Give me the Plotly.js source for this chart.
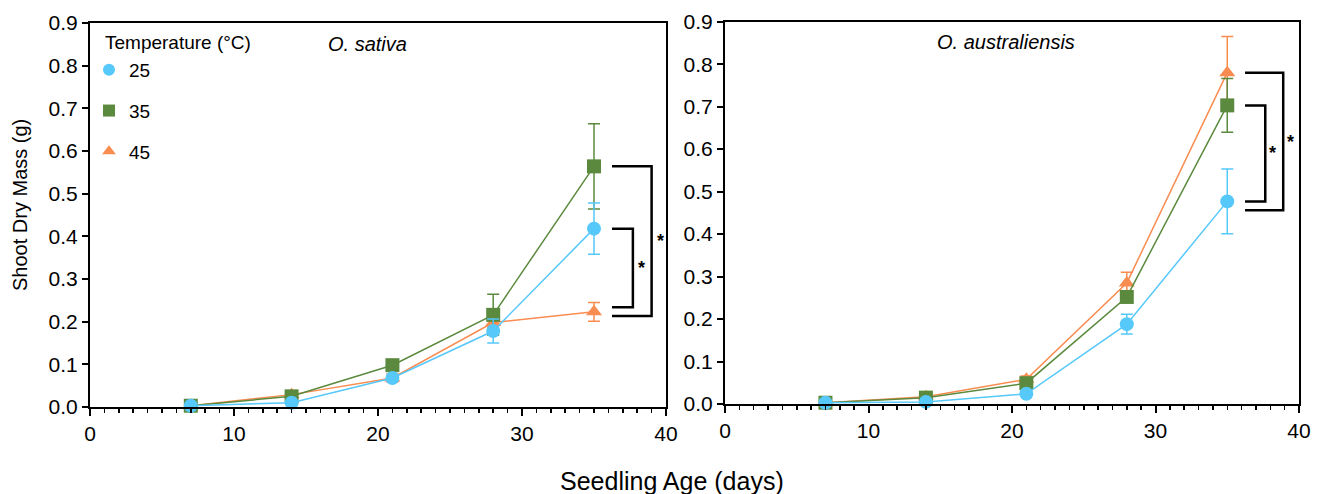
<!DOCTYPE html>
<html>
<head>
<meta charset="utf-8">
<script src="https://cdn.plot.ly/plotly-3.0.1.min.js"></script>
<style>html,body{margin:0;padding:0;background:#fff;}#chart{width:1321px;height:494px;}</style>
</head>
<body>
<div id="chart"></div>
<script>
// ---- data ----
const days = [7, 14, 21, 28, 35];
const tempLabels = ['25', '35', '45'];

const sativa25 = [0.003, 0.010, 0.068, 0.178, 0.418];
const sativa25Err = [0.002, 0.003, 0.005, 0.028, 0.060];
const sativa35 = [0.003, 0.025, 0.098, 0.216, 0.564];
const sativa35Err = [0.002, 0.004, 0.006, 0.048, 0.100];
const sativa45 = [0.003, 0.029, 0.068, 0.198, 0.223];
const sativa45Err = [0.002, 0.008, 0.010, 0.010, 0.022];

const aus25 = [0.003, 0.005, 0.024, 0.188, 0.477];
const aus25Err = [0.001, 0.002, 0.004, 0.023, 0.076];
const aus35 = [0.003, 0.015, 0.049, 0.252, 0.703];
const aus35Err = [0.001, 0.003, 0.005, 0.010, 0.063];
const aus45 = [0.003, 0.017, 0.058, 0.285, 0.780];
const aus45Err = [0.001, 0.004, 0.008, 0.025, 0.085];

const xTicks = [0, 10, 20, 30, 40];
const yTicks = [0, 0.1, 0.2, 0.3, 0.4, 0.5, 0.6, 0.7, 0.8, 0.9];

// significance brackets: [xStart, xEnd, yTop, yBottom]
const sativaBrackets = [[36.25, 37.7, 0.418, 0.234], [36.25, 39.0, 0.564, 0.213]];
const sativaStars = [[38.3, 0.326], [39.6, 0.39]];
const ausBrackets = [[36.24, 37.65, 0.703, 0.477], [36.24, 38.9, 0.780, 0.456]];
const ausStars = [[38.17, 0.59], [39.42, 0.617]];

// ---- styling ----
const colors = {'25': '#56C8FA', '35': '#5B8A3E', '45': '#F98C50'};
const symbols = {'25': 'circle', '35': 'square', '45': 'triangle-up'};
const sizes = {'25': 14, '35': 14, '45': 14};
const FONT = 'Liberation Sans, Arial, Helvetica, sans-serif';

function series(x, y, err, t, xa, ya) {
  return {
    x: x, y: y, type: 'scatter', mode: 'lines+markers', xaxis: xa, yaxis: ya,
    showlegend: false, cliponaxis: false,
    line: {color: colors[t], width: 1.5},
    marker: {color: colors[t], symbol: symbols[t], size: sizes[t]},
    error_y: {type: 'data', array: err, visible: true, color: colors[t], thickness: 1.5, width: 6}
  };
}

const traces = [
  series(days, sativa45, sativa45Err, '45', 'x', 'y'),
  series(days, sativa35, sativa35Err, '35', 'x', 'y'),
  series(days, sativa25, sativa25Err, '25', 'x', 'y'),
  series(days, aus45, aus45Err, '45', 'x2', 'y2'),
  series(days, aus35, aus35Err, '35', 'x2', 'y2'),
  series(days, aus25, aus25Err, '25', 'x2', 'y2')
];
// legend-only entries
tempLabels.forEach(function (t, i) {
  traces.push({
    x: [null], y: [null], type: 'scatter', mode: 'markers', name: t,
    legendgroup: 'g' + t, legendrank: i + 1, showlegend: true,
    marker: {color: colors[t], symbol: symbols[t], size: 12}
  });
});

function bracketShapes(list, xr, yr) {
  return list.map(function (b) {
    return {
      type: 'path', xref: xr, yref: yr,
      path: 'M ' + b[0] + ',' + b[2] + ' L ' + b[1] + ',' + b[2] + ' L ' + b[1] + ',' + b[3] + ' L ' + b[0] + ',' + b[3],
      line: {color: '#000', width: 2.5}
    };
  });
}
function starAnns(list, xr, yr) {
  return list.map(function (s) {
    return {x: s[0], y: s[1], xref: xr, yref: yr, text: '<b>*</b>', showarrow: false,
      xanchor: 'center', yanchor: 'middle', font: {family: FONT, size: 18, color: '#000'}};
  });
}

function xAxis(domain, anchor) {
  return {
    domain: domain, anchor: anchor, range: [0, 40], tickvals: xTicks,
    ticks: 'outside', ticklen: 7, tickwidth: 2, tickcolor: '#000',
    minor: {dtick: 1, tick0: 0, ticks: 'outside', ticklen: 4, tickwidth: 1.5, tickcolor: '#000', showgrid: false},
    showline: true, linecolor: '#000', linewidth: 2, mirror: true,
    showgrid: false, zeroline: false, automargin: false,
    tickfont: {family: FONT, size: 21, color: '#000'}
  };
}
function yAxis(domain, anchor) {
  return {
    domain: domain, anchor: anchor, range: [0, 0.9], tickvals: yTicks, tickformat: '.1f',
    ticks: 'outside', ticklen: 6, tickwidth: 2, tickcolor: '#000',
    showline: true, linecolor: '#000', linewidth: 2, mirror: true,
    showgrid: false, zeroline: false, automargin: false,
    tickfont: {family: FONT, size: 21, color: '#000'}
  };
}

const W = 1321, H = 494;
const layout = {
  width: W, height: H,
  margin: {l: 0, r: 0, t: 0, b: 0},
  paper_bgcolor: '#fff', plot_bgcolor: '#fff',
  font: {family: FONT, color: '#000'},
  xaxis: xAxis([90 / W, 666 / W], 'y'),
  yaxis: yAxis([1 - 407 / H, 1 - 23 / H], 'x'),
  xaxis2: xAxis([725 / W, 1299 / W], 'y2'),
  yaxis2: yAxis([1 - 404 / H, 1 - 21.7 / H], 'x2'),
  showlegend: true,
  legend: {
    x: 89 / W, y: 1 - 51 / H, xanchor: 'left', yanchor: 'top',
    bgcolor: 'rgba(0,0,0,0)', borderwidth: 0,
    font: {family: FONT, size: 19, color: '#000'},
    traceorder: 'grouped', tracegroupgap: 13, itemwidth: 30
  },
  shapes: bracketShapes(sativaBrackets, 'x', 'y').concat(bracketShapes(ausBrackets, 'x2', 'y2')),
  annotations: starAnns(sativaStars, 'x', 'y').concat(starAnns(ausStars, 'x2', 'y2')).concat([
    {text: 'Temperature (°C)', x: 103 / W, y: 1 - 42 / H, xref: 'paper', yref: 'paper', xanchor: 'left', yanchor: 'middle', showarrow: false, font: {family: FONT, size: 19, color: '#000'}},
    {text: '<i>O. sativa</i>', x: 367 / W, y: 1 - 44 / H, xref: 'paper', yref: 'paper', xanchor: 'center', yanchor: 'middle', showarrow: false, font: {family: FONT, size: 20, color: '#000'}},
    {text: '<i>O. australiensis</i>', x: 1006 / W, y: 1 - 42 / H, xref: 'paper', yref: 'paper', xanchor: 'center', yanchor: 'middle', showarrow: false, font: {family: FONT, size: 20, color: '#000'}},
    {text: 'Shoot Dry Mass (g)', x: 20 / W, y: 1 - 205 / H, xref: 'paper', yref: 'paper', xanchor: 'center', yanchor: 'middle', textangle: -90, showarrow: false, font: {family: FONT, size: 20, color: '#000'}},
    {text: 'Seedling Age (days)', x: 672 / W, y: 1 - 481 / H, xref: 'paper', yref: 'paper', xanchor: 'center', yanchor: 'middle', showarrow: false, font: {family: FONT, size: 25, color: '#000'}}
  ])
};

Plotly.newPlot('chart', traces, layout, {staticPlot: true, displayModeBar: false});
</script>
</body>
</html>
